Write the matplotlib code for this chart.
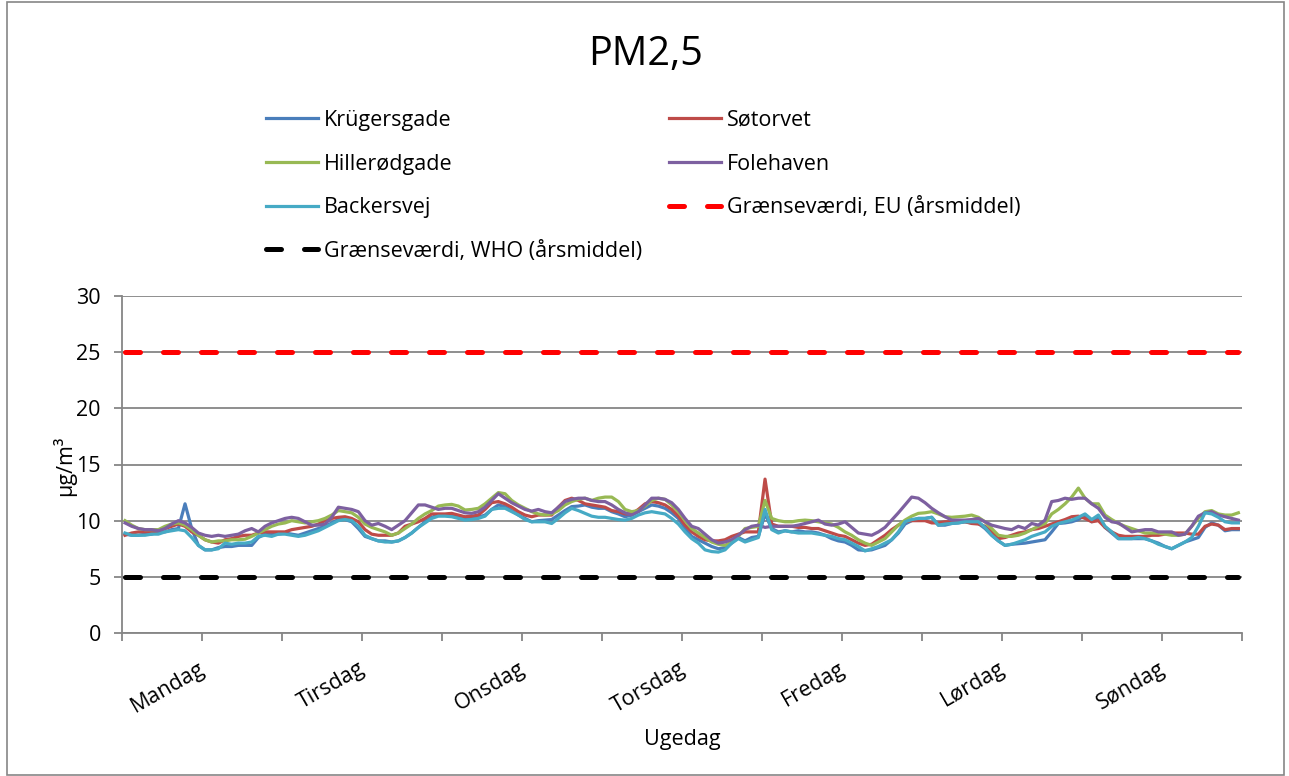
import matplotlib
matplotlib.use("Agg")
import matplotlib.pyplot as plt
from matplotlib.patches import Rectangle
import numpy as np

plt.rcParams['font.family'] = ['Open Sans', 'DejaVu Sans']

title = "PM2,5"
days = ["Mandag", "Tirsdag", "Onsdag", "Torsdag", "Fredag", "Lørdag", "Søndag"]
series_names = ["Krügersgade", "Søtorvet", "Hillerødgade", "Folehaven", "Backersvej"]
eu_label = "Grænseværdi, EU (årsmiddel)"
who_label = "Grænseværdi, WHO (årsmiddel)"
x_label = "Ugedag"
y_label = "µg/m³"
eu_limit = 25
who_limit = 5

# hourly values (Monday 00 .. Sunday 23)
kruegersgade = [
    8.8, 8.7, 8.7, 8.8, 8.8, 9.0, 9.0, 9.2, 9.3, 11.5, 9.3, 7.8, 7.4, 7.4, 7.6, 7.7, 7.7, 7.8, 7.8, 7.8, 8.5, 8.8, 8.8, 8.8,
    8.9, 8.8, 8.7, 8.9, 9.1, 9.3, 9.5, 9.8, 10.1, 10.1, 9.9, 9.3, 8.6, 8.4, 8.2, 8.2, 8.1, 8.2, 8.5, 8.9, 9.4, 9.9, 10.3, 10.5,
    10.5, 10.5, 10.4, 10.2, 10.2, 10.3, 10.5, 11.0, 11.4, 11.25, 10.9, 10.5, 10.2, 9.9, 10.0, 10.05, 10.1, 10.5, 10.9, 11.25, 11.3, 11.4, 11.2, 11.1,
    11.1, 10.8, 10.6, 10.35, 10.5, 10.8, 11.1, 11.4, 11.3, 11.1, 10.7, 10.2, 9.3, 8.6, 8.3, 8.0, 7.7, 7.5, 7.6, 8.0, 8.5, 8.2, 8.5, 8.6,
    10.6, 9.3, 9.0, 9.1, 9.0, 9.1, 9.0, 9.0, 8.9, 8.7, 8.4, 8.2, 8.1, 7.8, 7.4, 7.35, 7.4, 7.6, 7.8, 8.3, 8.9, 9.7, 10.0, 10.2,
    10.2, 10.3, 9.6, 9.6, 9.75, 9.8, 9.9, 9.8, 9.75, 9.3, 8.7, 8.2, 7.8, 7.9, 7.95, 8.0, 8.1, 8.2, 8.3, 9.0, 9.75, 9.8, 9.9, 10.1,
    10.5, 9.9, 10.3, 9.4, 8.9, 8.4, 8.4, 8.4, 8.4, 8.4, 8.2, 8.0, 7.7, 7.5, 7.8, 8.1, 8.3, 8.5, 9.4, 9.8, 9.6, 9.1, 9.2, 9.2,
]
soetorvet = [
    8.7, 8.9, 9.0, 9.0, 9.0, 9.1, 9.3, 9.5, 9.7, 9.5, 9.0, 8.7, 8.3, 8.1, 8.0, 8.3, 8.4, 8.6, 8.7, 8.7, 8.9, 9.0, 9.0, 9.0,
    9.0, 9.2, 9.3, 9.4, 9.5, 9.7, 10.0, 10.2, 10.3, 10.35, 10.2, 9.9, 9.2, 8.8, 8.7, 8.7, 8.7, 8.9, 9.5, 9.7, 9.9, 10.2, 10.6, 10.6,
    10.6, 10.65, 10.5, 10.35, 10.4, 10.5, 11.0, 11.6, 11.7, 11.5, 11.2, 10.8, 10.5, 10.35, 10.5, 10.5, 10.5, 11.2, 11.8, 12.0, 11.8, 11.5, 11.4, 11.3,
    11.2, 10.9, 10.8, 10.6, 10.6, 11.0, 11.5, 11.7, 11.6, 11.4, 11.0, 10.4, 9.6, 9.0, 8.6, 8.3, 8.2, 8.2, 8.3, 8.6, 8.8, 9.0, 9.0, 9.0,
    13.7, 9.7, 9.5, 9.5, 9.5, 9.4, 9.4, 9.3, 9.3, 9.1, 8.9, 8.7, 8.6, 8.3, 8.0, 7.8, 7.9, 8.3, 8.7, 9.2, 9.6, 9.9, 10.0, 10.0,
    10.0, 9.8, 9.8, 9.9, 9.9, 9.9, 9.9, 9.75, 9.7, 9.5, 9.0, 8.4, 8.5, 8.7, 8.9, 9.0, 9.2, 9.3, 9.5, 9.7, 9.9, 10.1, 10.35, 10.4,
    10.2, 9.9, 10.0, 9.4, 9.0, 8.7, 8.6, 8.6, 8.6, 8.6, 8.7, 8.7, 8.8, 8.9, 8.9, 8.9, 8.8, 8.8, 9.5, 9.7, 9.6, 9.2, 9.3, 9.3,
]
hilleroedgade = [
    10.0, 9.6, 9.3, 9.2, 9.2, 9.2, 9.5, 9.7, 9.8, 9.6, 9.2, 8.7, 8.3, 8.1, 8.2, 8.2, 8.3, 8.3, 8.35, 8.6, 8.9, 9.2, 9.5, 9.7,
    9.8, 10.0, 9.9, 9.8, 9.9, 10.0, 10.2, 10.5, 10.9, 10.8, 10.7, 10.3, 9.7, 9.4, 9.2, 9.0, 8.7, 8.9, 9.3, 9.7, 10.2, 10.6, 10.9, 11.3,
    11.4, 11.45, 11.3, 10.95, 11.0, 11.1, 11.5, 12.0, 12.5, 12.4, 11.8, 11.4, 11.1, 10.8, 10.6, 10.5, 10.6, 10.9, 11.4, 11.7, 11.9, 12.0, 11.8, 12.0,
    12.1, 12.1, 11.7, 11.0, 10.8, 10.9, 11.3, 11.8, 12.0, 11.9, 11.4, 10.8, 10.0, 9.3, 8.9, 8.5, 8.1, 7.9, 7.8, 8.1, 8.6, 9.3, 9.4, 9.5,
    11.8, 10.2, 10.0, 9.9, 9.9, 10.0, 10.05, 10.0, 9.9, 9.8, 9.7, 9.4, 9.0, 8.7, 8.3, 8.0, 7.8, 8.1, 8.4, 9.0, 9.6, 10.05, 10.4, 10.65,
    10.7, 10.8, 10.6, 10.35, 10.3, 10.35, 10.4, 10.5, 10.3, 9.9, 9.3, 8.7, 8.6, 8.6, 8.7, 8.9, 9.2, 9.5, 9.75, 10.6, 11.0, 11.5, 12.1, 12.9,
    12.0, 11.5, 11.5, 10.5, 10.1, 9.75, 9.5, 9.3, 9.1, 8.9, 8.9, 8.9, 8.8, 8.7, 8.7, 8.8, 9.5, 10.2, 10.8, 10.9, 10.6, 10.5, 10.5, 10.7,
]
folehaven = [
    9.8, 9.5, 9.3, 9.2, 9.2, 9.1, 9.3, 9.7, 10.0, 9.8, 9.4, 8.9, 8.7, 8.6, 8.7, 8.6, 8.7, 8.8, 9.1, 9.3, 9.0, 9.5, 9.8, 10.0,
    10.2, 10.3, 10.2, 9.9, 9.6, 9.6, 9.7, 10.3, 11.2, 11.1, 11.0, 10.8, 10.0, 9.6, 9.75, 9.5, 9.2, 9.6, 10.0, 10.7, 11.4, 11.4, 11.2, 11.0,
    11.1, 11.1, 10.9, 10.7, 10.65, 10.8, 11.2, 11.8, 12.4, 12.0, 11.6, 11.3, 11.0, 10.85, 11.0, 10.8, 10.7, 11.2, 11.7, 11.9, 12.0, 12.0, 11.8, 11.7,
    11.7, 11.4, 11.0, 10.7, 10.5, 10.8, 11.4, 12.0, 12.0, 11.9, 11.6, 11.0, 10.2, 9.5, 9.3, 8.8, 8.3, 8.0, 8.1, 8.3, 8.7, 9.2, 9.5, 9.6,
    9.4, 9.5, 9.5, 9.5, 9.5, 9.6, 9.75, 9.9, 10.05, 9.7, 9.6, 9.7, 9.9, 9.4, 8.9, 8.8, 8.7, 9.0, 9.4, 10.05, 10.7, 11.4, 12.1, 12.0,
    11.6, 11.1, 10.7, 10.35, 10.05, 10.05, 10.05, 10.1, 10.2, 9.9, 9.6, 9.45, 9.3, 9.2, 9.5, 9.3, 9.75, 9.6, 10.05, 11.7, 11.8, 12.0, 11.9, 12.0,
    12.0, 11.5, 11.1, 10.3, 9.9, 9.8, 9.4, 9.0, 9.1, 9.2, 9.2, 9.0, 9.0, 9.0, 8.7, 8.8, 9.5, 10.4, 10.7, 10.8, 10.5, 10.35, 10.2, 10.05,
]
backersvej = [
    8.9, 8.7, 8.7, 8.7, 8.8, 8.8, 9.0, 9.1, 9.2, 9.1, 8.5, 7.8, 7.4, 7.4, 7.5, 8.0, 7.9, 8.0, 8.0, 8.1, 8.6, 8.7, 8.6, 8.8,
    8.8, 8.7, 8.6, 8.7, 8.9, 9.1, 9.4, 9.7, 10.0, 10.1, 10.0, 9.5, 8.7, 8.4, 8.2, 8.1, 8.1, 8.2, 8.5, 8.9, 9.4, 9.8, 10.2, 10.4,
    10.4, 10.35, 10.2, 10.05, 10.1, 10.2, 10.4, 11.0, 11.1, 11.1, 10.8, 10.5, 10.1, 9.9, 9.9, 9.9, 9.75, 10.2, 10.7, 11.1, 10.9, 10.65, 10.4, 10.3,
    10.3, 10.2, 10.1, 10.05, 10.2, 10.5, 10.7, 10.8, 10.7, 10.6, 10.2, 9.7, 9.0, 8.4, 8.0, 7.4, 7.25, 7.2, 7.4, 8.0, 8.4, 8.1, 8.3, 8.5,
    11.0, 9.2, 8.9, 9.1, 9.0, 8.9, 8.9, 8.9, 8.8, 8.7, 8.6, 8.4, 8.3, 8.0, 7.7, 7.3, 7.5, 7.7, 8.0, 8.3, 9.0, 9.9, 10.1, 10.2,
    10.2, 10.3, 9.6, 9.7, 9.75, 9.8, 9.9, 9.9, 9.9, 9.4, 8.7, 8.2, 7.8, 7.9, 8.1, 8.3, 8.6, 8.8, 9.0, 9.5, 9.75, 9.9, 10.05, 10.3,
    10.6, 10.1, 10.5, 9.5, 9.0, 8.4, 8.4, 8.4, 8.5, 8.4, 8.2, 7.9, 7.7, 7.5, 7.8, 8.1, 8.5, 9.5, 10.7, 10.6, 10.3, 9.9, 9.8, 9.8,
]

colors = ["#4A7EBB", "#BE4B48", "#98B954", "#7D60A0", "#46AAC5"]
grid_color = "#868686"
fs = 15.5

W, H = 1289, 776
fig = plt.figure(figsize=(W / 100, H / 100), dpi=100)
ax = fig.add_axes([121.7 / W, 1 - 633 / H, 1120 / W, 337 / H])

all_series = [kruegersgade, soetorvet, hilleroedgade, folehaven, backersvej]
n = len(kruegersgade)
x = np.arange(n) + 0.5
handles = []
for vals, name, c in zip(all_series, series_names, colors):
    h, = ax.plot(x, vals, color=c, lw=2.3, label=name, zorder=3, solid_joinstyle='round')
    handles.append(h)

eu_h, = ax.plot([0.5, n - 0.5], [eu_limit, eu_limit], color="#FF0000", lw=3.6,
                dashes=(3.0, 4.6), dash_capstyle='round', zorder=2, label=eu_label)
who_h, = ax.plot([0.5, n - 0.5], [who_limit, who_limit], color="#000000", lw=3.6,
                 dashes=(3.0, 4.6), dash_capstyle='round', zorder=2, label=who_label)

ax.set_xlim(0, n)
ax.set_ylim(0, 30)
ax.set_yticks(np.arange(0, 31, 5))
ax.yaxis.grid(True, color=grid_color, lw=1.3)
ax.set_axisbelow(True)
for s in ["top", "right"]:
    ax.spines[s].set_visible(False)
for s in ["left", "bottom"]:
    ax.spines[s].set_color(grid_color)
    ax.spines[s].set_linewidth(1.3)

ax.set_xticks(np.arange(0, n + 1, 12))
ax.set_xticklabels([])
ax.tick_params(axis='x', length=6, width=1.3, color=grid_color, direction='out')
ax.tick_params(axis='y', length=6, width=1.3, color=grid_color, direction='out',
               labelsize=fs, pad=9)

for k, d in enumerate(days):
    ax.annotate(d, xy=(12 + 24 * k, 0), xycoords='data', xytext=(-2.5, -18),
                textcoords='offset points', rotation=30, rotation_mode='anchor',
                ha='right', va='top', fontsize=fs)

fig.text(64 / W, 1 - 466 / H, y_label, rotation=90, ha='center', va='center', fontsize=fs)
fig.text(682 / W, 1 - 740 / H, x_label, ha='center', va='center', fontsize=fs)

fig.text(646 / W, 1 - 55 / H, title, ha='center', va='center', fontsize=28.5)

leg_kw = dict(frameon=False, fontsize=fs, handlelength=2.4, handletextpad=0.3,
              labelspacing=1.05, borderaxespad=0, borderpad=0)
leg1 = fig.legend([handles[0], handles[2], handles[4], who_h],
                  [series_names[0], series_names[2], series_names[4], who_label],
                  loc='upper left', bbox_to_anchor=(266 / W, 1 - 110 / H), **leg_kw)
leg2 = fig.legend([handles[1], handles[3], eu_h],
                  [series_names[1], series_names[3], eu_label],
                  loc='upper left', bbox_to_anchor=(669 / W, 1 - 110 / H), **leg_kw)

fig.patches.append(Rectangle((7 / W, 1 / H), 1277 / W, 773 / H, transform=fig.transFigure,
                             fill=False, edgecolor=grid_color, lw=1.2))

fig.savefig("out.png", dpi=100, facecolor='white')
